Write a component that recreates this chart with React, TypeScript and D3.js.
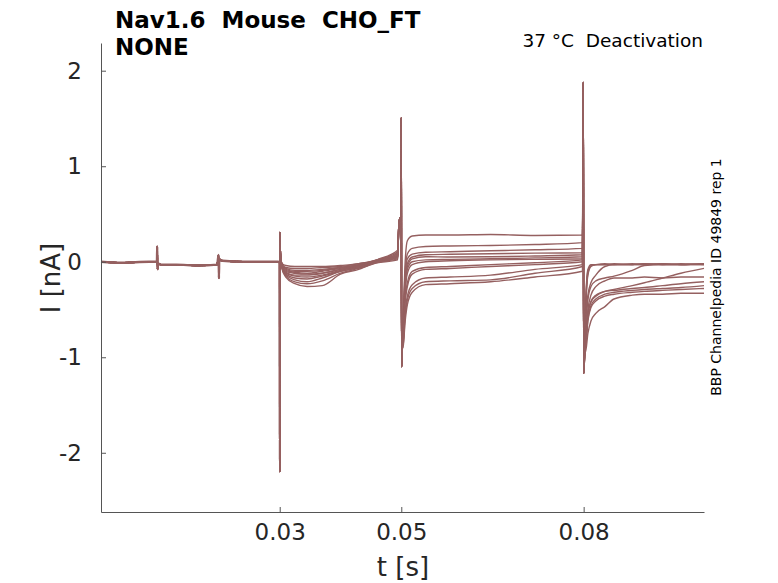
import React, { useRef, useEffect } from 'react';
import * as d3 from 'd3';

// holding segment, shared by all sweeps (t in s, I in nA)
const BASE_T = [0.0006, 0.004, 0.0085, 0.0098, 0.00985, 0.0099, 0.00995, 0.0101, 0.0104, 0.013, 0.0165, 0.0197, 0.01995, 0.02, 0.02005, 0.0202, 0.0206, 0.024, 0.0275, 0.02985];
const BASE_I = [0.0, -0.01, 0.0, 0.0, 0.16, -0.08, -0.03, -0.02, -0.03, -0.03, -0.04, -0.03, 0.07, -0.17, 0.03, 0.02, 0.01, 0.0, 0.0, 0.0];

// capacitive transients at the voltage steps
const STEP1_T = [0.02998, 0.03, 0.03004, 0.0301, 0.0302];
const STEP1_I = [0.0, -2.2, 0.31, 0.12, 0.03];
const STEP2_T = [0.0496, 0.0498, 0.04995, 0.05, 0.05005, 0.0502];
const STEP2_I = [0.38, 0.46, 0.42, 1.51, -1.1, -0.85];
const STEP3_T = [0.07995, 0.08, 0.0802];
const STEP3_I = [1.88, -1.17, -0.9];

// per-sweep currents in the three test segments
const SEG_B_T = [0.0304, 0.031, 0.0325, 0.0345, 0.037, 0.04, 0.043, 0.046, 0.0494];
const SEG_C_T = [0.0503, 0.0506, 0.051, 0.0518, 0.054, 0.058, 0.0647, 0.072, 0.0798];
const SEG_D_T = [0.0803, 0.0807, 0.0812, 0.082, 0.0835, 0.085, 0.088, 0.09, 0.093, 0.096, 0.0998];

const SEG_B_I = [
  [-0.02, -0.04, -0.05, -0.05, -0.05, -0.04, -0.02, 0.0, 0.03],
  [-0.03, -0.06, -0.07, -0.07, -0.06, -0.05, -0.02, 0.01, 0.05],
  [-0.03, -0.07, -0.09, -0.09, -0.08, -0.06, -0.03, 0.01, 0.06],
  [-0.04, -0.08, -0.1, -0.1, -0.09, -0.06, -0.03, 0.02, 0.08],
  [-0.04, -0.09, -0.11, -0.12, -0.1, -0.07, -0.04, 0.0, 0.04],
  [-0.05, -0.1, -0.12, -0.13, -0.12, -0.08, -0.04, 0.02, 0.1],
  [-0.05, -0.11, -0.14, -0.14, -0.12, -0.08, -0.05, -0.01, 0.02],
  [-0.06, -0.12, -0.15, -0.16, -0.14, -0.09, -0.05, 0.01, 0.07],
  [-0.06, -0.13, -0.17, -0.18, -0.15, -0.1, -0.06, 0.0, 0.05],
  [-0.07, -0.14, -0.19, -0.21, -0.17, -0.1, -0.06, 0.02, 0.12],
  [-0.07, -0.15, -0.21, -0.23, -0.2, -0.12, -0.07, -0.01, 0.06],
  [-0.08, -0.16, -0.23, -0.26, -0.25, -0.13, -0.08, 0.0, 0.09],
];

const SEG_C_I = [
  [-0.6, -0.05, 0.22, 0.27, 0.28, 0.28, 0.285, 0.275, 0.28],
  [-0.65, -0.15, 0.08, 0.14, 0.16, 0.165, 0.17, 0.18, 0.2],
  [-0.65, -0.2, 0.03, 0.08, 0.1, 0.105, 0.115, 0.125, 0.14],
  [-0.7, -0.25, -0.02, 0.05, 0.073, 0.078, 0.084, 0.09, 0.094],
  [-0.7, -0.28, -0.05, 0.03, 0.052, 0.05, 0.052, 0.06, 0.073],
  [-0.72, -0.32, -0.08, 0.0, 0.02, 0.025, 0.031, 0.04, 0.052],
  [-0.75, -0.35, -0.12, -0.03, 0.0, 0.01, 0.02, 0.025, 0.031],
  [-0.78, -0.42, -0.22, -0.1, -0.06, -0.05, -0.03, -0.01, 0.02],
  [-0.8, -0.45, -0.26, -0.13, -0.08, -0.07, -0.05, -0.03, 0.0],
  [-0.85, -0.55, -0.36, -0.24, -0.17, -0.16, -0.14, -0.08, -0.03],
  [-0.88, -0.6, -0.4, -0.28, -0.21, -0.2, -0.19, -0.12, -0.05],
  [-0.9, -0.65, -0.45, -0.32, -0.24, -0.23, -0.21, -0.16, -0.1],
];

const SEG_D_I = [
  [-0.5, -0.08, -0.03, -0.03, -0.03, -0.02, -0.03, -0.03, -0.02, -0.03, -0.02],
  [-0.55, -0.1, -0.04, -0.03, -0.03, -0.03, -0.02, -0.03, -0.03, -0.02, -0.03],
  [-0.55, -0.12, -0.04, -0.03, -0.02, -0.03, -0.03, -0.02, -0.03, -0.03, -0.02],
  [-0.6, -0.14, -0.05, -0.03, -0.03, -0.03, -0.03, -0.03, -0.02, -0.03, -0.03],
  [-0.85, -0.55, -0.42, -0.35, -0.31, -0.3, -0.28, -0.27, -0.25, -0.23, -0.21],
  [-0.7, -0.35, -0.22, -0.14, -0.05, -0.03, -0.03, -0.02, -0.03, -0.03, -0.02],
  [-0.75, -0.4, -0.26, -0.2, -0.17, -0.15, -0.09, -0.04, -0.03, -0.03, -0.03],
  [-0.8, -0.5, -0.35, -0.26, -0.2, -0.17, -0.17, -0.16, -0.17, -0.16, -0.16],
  [-0.85, -0.55, -0.42, -0.36, -0.31, -0.29, -0.25, -0.22, -0.17, -0.12, -0.07],
  [-0.88, -0.6, -0.46, -0.39, -0.34, -0.32, -0.3, -0.29, -0.28, -0.27, -0.25],
  [-0.9, -0.62, -0.48, -0.41, -0.36, -0.34, -0.32, -0.31, -0.3, -0.29, -0.28],
  [-0.95, -0.75, -0.62, -0.54, -0.47, -0.39, -0.35, -0.34, -0.34, -0.33, -0.33],
];

const Y_TICKS = [-2, -1, 0, 1, 2];
const X_TICKS = [0.03, 0.05, 0.08];

const TRACE_COLOR = '#956060';
const FONT = '"DejaVu Sans", sans-serif';

const zip = (ts: number[], is: number[]) => ts.map((t, k) => [t, is[k]] as [number, number]);

const App: React.FC = () => {
  const xAxisRef = useRef<SVGGElement | null>(null);
  const yAxisRef = useRef<SVGGElement | null>(null);

  const width = 778;
  const height = 583;
  const margin = { top: 43, right: 74, bottom: 71, left: 101 };

  const x = d3.scaleLinear().domain([0.0006, 0.0998]).range([margin.left, width - margin.right]);
  const y = d3.scaleLinear().domain([-2.62, 2.29]).range([height - margin.bottom, margin.top]);

  const line = d3.line<[number, number]>()
    .x(d => x(d[0]))
    .y(d => y(d[1]))
    .curve(d3.curveMonotoneX);

  const sweeps = SEG_B_I.map((_, s) => [
    ...zip(BASE_T, BASE_I),
    ...zip(STEP1_T, STEP1_I),
    ...zip(SEG_B_T, SEG_B_I[s]),
    ...zip(STEP2_T, STEP2_I),
    ...zip(SEG_C_T, SEG_C_I[s]),
    ...zip(STEP3_T, STEP3_I),
    ...zip(SEG_D_T, SEG_D_I[s]),
  ]);

  useEffect(() => {
    const xa = d3.select(xAxisRef.current!);
    xa.selectAll('*').remove();
    xa.call(
      d3.axisBottom(x).tickValues(X_TICKS).tickFormat(d3.format('.2f') as any)
        .tickSize(-5).tickSizeOuter(0).tickPadding(12)
    );
    const ya = d3.select(yAxisRef.current!);
    ya.selectAll('*').remove();
    ya.call(
      d3.axisLeft(y).tickValues(Y_TICKS).tickFormat((d: any) => String(d))
        .tickSize(-5).tickSizeOuter(0).tickPadding(19)
    );
    [xa, ya].forEach(a => {
      a.select('.domain').attr('stroke', '#555').attr('stroke-width', 1);
      a.selectAll('.tick line').attr('stroke', '#555');
      a.selectAll('.tick text')
        .attr('fill', '#262626')
        .style('font-family', FONT)
        .style('font-size', '23px');
    });
  }, []);

  return (
    <svg width={width} height={height} style={{ position: 'absolute', left: 0, top: 0, background: '#fff' }}>
      <g>
        <path
          d={line(zip(BASE_T, BASE_I)) || ''}
          fill="none"
          stroke={TRACE_COLOR}
          strokeWidth={2.4}
        />
        {sweeps.map((pts, s) => (
          <path key={s} d={line(pts) || ''} fill="none" stroke={TRACE_COLOR} strokeWidth={1.4} strokeLinejoin="round" />
        ))}
      </g>
      <g ref={xAxisRef} transform={`translate(0,${height - margin.bottom})`} />
      <g ref={yAxisRef} transform={`translate(${margin.left},0)`} />

      <text x={403} y={576} textAnchor="middle" fontFamily={FONT} fontSize={26} fill="#262626" style={{ whiteSpace: 'pre' }}>t [s]</text>
      <text transform="translate(60,278) rotate(-90)" textAnchor="middle" fontFamily={FONT} fontSize={26} fill="#262626" style={{ whiteSpace: 'pre' }}>I [nA]</text>

      <text x={115} y={28} fontFamily={FONT} fontWeight="bold" fontSize={23} fill="#000" style={{ whiteSpace: 'pre' }}>Nav1.6  Mouse  CHO_FT</text>
      <text x={115} y={55} fontFamily={FONT} fontWeight="bold" fontSize={23} fill="#000">NONE</text>
      <text x={703} y={47} textAnchor="end" fontFamily={FONT} fontSize={18.5} fill="#000" style={{ whiteSpace: 'pre' }}>37 °C  Deactivation</text>
      <text transform="translate(721,277) rotate(-90)" textAnchor="middle" fontFamily={FONT} fontSize={14} fill="#000">BBP Channelpedia ID 49849 rep 1</text>
    </svg>
  );
};

export default App;
